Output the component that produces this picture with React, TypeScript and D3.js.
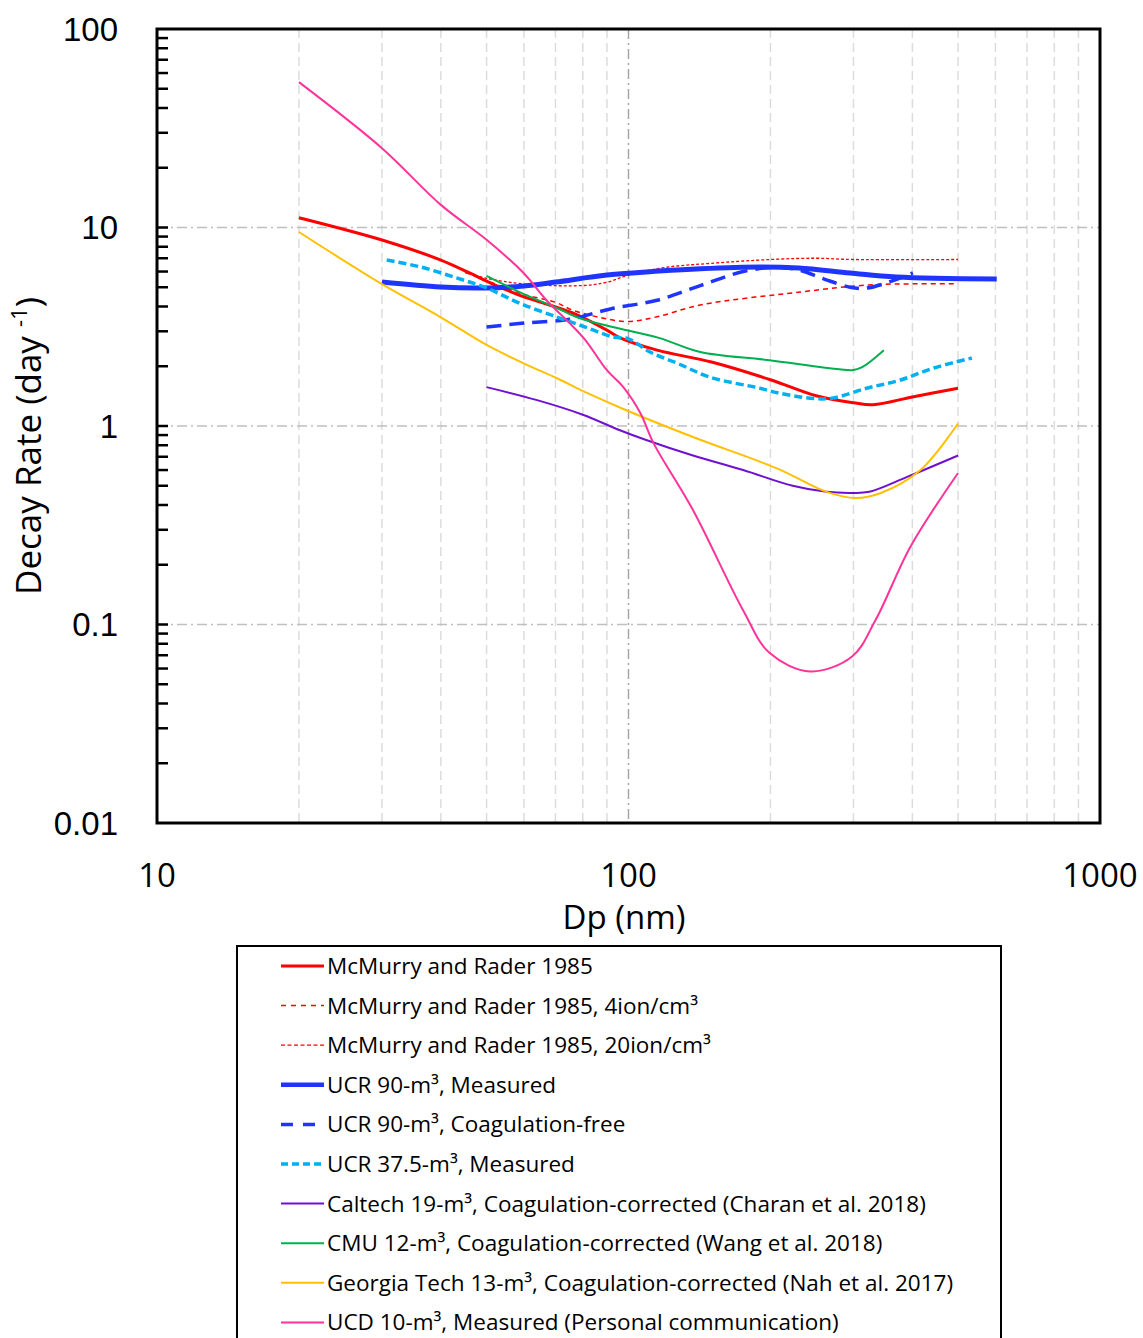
import React from "react";
import * as d3 from "d3";

// Particle wall-loss decay rates vs. particle diameter (log-log)
type Pt = [number, number];

const mcmurry: Pt[] = [
  [20, 11.2], [30, 8.65], [40, 6.85], [46, 5.9], [51, 5.25], [60, 4.47], [68, 4.07],
  [78, 3.62], [90, 3.04], [96, 2.78], [115, 2.41], [150, 2.1], [200, 1.71],
  [250, 1.42], [300, 1.31], [330, 1.28], [400, 1.4], [500, 1.55],
];
const mcmurry4ion: Pt[] = [
  [45, 5.95], [51, 5.3], [60, 4.6], [70, 4.2], [76, 3.84], [88, 3.5], [100, 3.36],
  [115, 3.55], [142, 4.07], [231, 4.73], [321, 5.13], [400, 5.2], [500, 5.2],
];
const mcmurry20ion: Pt[] = [
  [45, 5.95], [50, 5.55], [60, 5.2], [80, 5.1], [90, 5.3], [100, 5.76],
  [120, 6.3], [150, 6.6], [200, 6.9], [250, 7.0], [300, 6.9], [500, 6.9],
];
const ucr90Measured: Pt[] = [
  [30, 5.31], [40, 5.01], [50, 4.96], [60, 5.08], [70, 5.31], [90, 5.76], [116, 6.03],
  [142, 6.2], [190, 6.33], [230, 6.25], [295, 5.9], [370, 5.63], [604, 5.5],
];
const ucr90CoagFree: Pt[] = [
  [50, 3.15], [60, 3.3], [75, 3.45], [92, 3.9], [115, 4.3], [142, 5.1], [175, 6.0],
  [205, 6.3], [230, 6.1], [260, 5.5], [295, 5.0], [320, 4.95], [364, 5.4], [401, 5.9],
];
const ucr375Measured: Pt[] = [
  [30.7, 6.86], [36.2, 6.33], [43.2, 5.57], [50, 4.96], [58.7, 4.16], [70.5, 3.54],
  [81, 3.15], [92.6, 2.81], [100, 2.75], [111, 2.36], [127, 2.07], [149, 1.76],
  [190, 1.55], [207, 1.47], [243, 1.38], [270, 1.38], [320, 1.55], [376, 1.7],
  [444, 1.96], [535, 2.2],
];
const caltech19: Pt[] = [
  [50, 1.57], [64, 1.35], [80, 1.14], [95.6, 0.955], [109, 0.85], [137, 0.71],
  [175, 0.6], [223, 0.5], [263, 0.466], [298, 0.46], [324, 0.466], [390, 0.554], [500, 0.71],
];
const cmu12: Pt[] = [
  [50, 5.7], [58.7, 4.73], [70.5, 3.93], [78.6, 3.5], [92.6, 3.15], [116, 2.78],
  [142, 2.36], [197, 2.15], [280, 1.93], [298, 1.91], [313, 1.98], [348, 2.41],
];
const georgiaTech13: Pt[] = [
  [20, 9.49], [29.7, 5.26], [39.9, 3.54], [50, 2.56], [59.9, 2.07], [70.5, 1.74],
  [81, 1.48], [98.9, 1.2], [137, 0.88], [207, 0.61], [263, 0.466], [303, 0.434],
  [343, 0.46], [416, 0.6], [500, 1.03],
];
const ucd10: Pt[] = [
  [20, 54], [30, 25.1], [40, 13.0], [50, 8.67], [59.9, 5.9], [67, 4.3],
  [75, 3.3], [81, 2.71], [90, 1.91], [97.5, 1.57], [106, 1.16], [113, 0.82], [137, 0.377],
  [175, 0.118], [199, 0.072], [243, 0.058], [298, 0.069], [334, 0.105], [396, 0.246], [500, 0.58],
];

const xTicks = [10, 100, 1000];
const yTicks = [0.01, 0.1, 1, 10, 100];
const yTickLabels = ["0.01", "0.1", "1", "10", "100"];

interface Series {
  name: string;
  data: Pt[];
  color: string;
  width: number;
  dash?: string;
  legendDash?: string;
}

const series: Series[] = [
  { name: "McMurry and Rader 1985", data: mcmurry, color: "#ff0000", width: 3 },
  { name: "McMurry and Rader 1985, 4ion/cm³", data: mcmurry4ion, color: "#ff0000", width: 1.5, dash: "5,4", legendDash: "5,5" },
  { name: "McMurry and Rader 1985, 20ion/cm³", data: mcmurry20ion, color: "#ff0000", width: 1.3, dash: "3,2", legendDash: "4,2.5" },
  { name: "UCR 90-m³, Measured", data: ucr90Measured, color: "#1f35ff", width: 5 },
  { name: "UCR 90-m³, Coagulation-free", data: ucr90CoagFree, color: "#1f35ff", width: 3.5, dash: "15,8", legendDash: "12,10" },
  { name: "UCR 37.5-m³, Measured", data: ucr375Measured, color: "#00b0f0", width: 3.5, dash: "8,4", legendDash: "7,4" },
  { name: "Caltech 19-m³, Coagulation-corrected (Charan et al. 2018)", data: caltech19, color: "#7010d0", width: 2 },
  { name: "CMU 12-m³, Coagulation-corrected (Wang et al. 2018)", data: cmu12, color: "#00b050", width: 2 },
  { name: "Georgia Tech 13-m³, Coagulation-corrected (Nah et al. 2017)", data: georgiaTech13, color: "#ffc000", width: 2 },
  { name: "UCD 10-m³, Measured (Personal communication)", data: ucd10, color: "#ff3399", width: 2 },
];

const W = 1143;
const H = 1338;
const plot = { left: 157, right: 1100, top: 29, bottom: 823 };

export default function App() {
  const x = d3.scaleLog().domain([10, 1000]).range([plot.left, plot.right]);
  const y = d3.scaleLog().domain([0.01, 100]).range([plot.bottom, plot.top]);

  const line = d3
    .line<Pt>()
    .x((d) => x(d[0]))
    .y((d) => y(d[1]))
    .curve(d3.curveCatmullRom.alpha(0.5));

  // minor grid positions (2..9 in each decade)
  const xMinor: number[] = [];
  const yMinor: number[] = [];
  [10, 100].forEach((b) => {
    for (let k = 2; k <= 9; k++) xMinor.push(b * k);
  });
  [0.01, 0.1, 1, 10].forEach((b) => {
    for (let k = 2; k <= 9; k++) yMinor.push(b * k);
  });

  const legendTop = 966;
  const legendStep = 39.6;

  return (
    <svg
      width={W}
      height={H}
      style={{ position: "absolute", left: 0, top: 0, background: "#fff" }}
      fontFamily="'Open Sans', sans-serif"
    >
      <rect x={0} y={0} width={W} height={H} fill="#fff" />
      {/* vertical grid */}
      {xMinor.map((v) => (
        <line key={"xg" + v} x1={x(v)} x2={x(v)} y1={plot.top} y2={plot.bottom}
          stroke="#dcdcdc" strokeWidth={1.5} strokeDasharray="9,5" />
      ))}
      <line x1={x(100)} x2={x(100)} y1={plot.top} y2={plot.bottom}
        stroke="#a6a6a6" strokeWidth={1.5} strokeDasharray="10,4,2,4" />
      {/* horizontal grid */}
      {[0.1, 1, 10].map((v) => (
        <line key={"yg" + v} x1={plot.left} x2={plot.right} y1={y(v)} y2={y(v)}
          stroke="#bfbfbf" strokeWidth={1.5} strokeDasharray="10,4,2,4" />
      ))}
      {/* y minor ticks, inside */}
      {yMinor.map((v) => (
        <line key={"ym" + v} x1={plot.left} x2={plot.left + 11} y1={y(v)} y2={y(v)}
          stroke="#000" strokeWidth={2.5} />
      ))}
      {[0.1, 1, 10].map((v) => (
        <line key={"yM" + v} x1={plot.left} x2={plot.left + 11} y1={y(v)} y2={y(v)}
          stroke="#000" strokeWidth={2.5} />
      ))}

      {/* series */}
      {series.map((s) => (
        <path key={s.name} d={line(s.data) || ""} fill="none" stroke={s.color}
          strokeWidth={s.width} strokeDasharray={s.dash} strokeLinejoin="round" />
      ))}

      {/* frame */}
      <rect x={plot.left} y={plot.top} width={plot.right - plot.left} height={plot.bottom - plot.top}
        fill="none" stroke="#000" strokeWidth={3} />

      {/* tick labels */}
      {yTicks.map((v, i) => (
        <text key={"yl" + v} x={118} y={y(v)} dy="0.36em" textAnchor="end"
          fontFamily="'Liberation Sans', sans-serif" fontSize={33} fill="#000">
          {yTickLabels[i]}
        </text>
      ))}
      {xTicks.map((v) => (
        <text key={"xl" + v} x={x(v)} y={887} textAnchor="middle" fontSize={33} fill="#000">
          {String(v)}
        </text>
      ))}

      {/* axis titles */}
      <text x={624} y={929} textAnchor="middle" fontSize={33} fill="#000">Dp (nm)</text>
      <text transform="translate(41,446) rotate(-90)" textAnchor="middle" fontSize={35} fill="#000">
        Decay Rate (day <tspan fontSize={22} dy={-14}>-1</tspan><tspan dy={14}>)</tspan>
      </text>

      {/* legend */}
      <rect x={237} y={946} width={764} height={420} fill="#fff" stroke="#000" strokeWidth={2} />
      {series.map((s, i) => {
        const ly = legendTop + i * legendStep;
        return (
          <g key={"lg" + s.name}>
            <line x1={281} x2={324} y1={ly} y2={ly} stroke={s.color}
              strokeWidth={Math.min(s.width, 4.5)} strokeDasharray={s.legendDash ?? s.dash} />
            <text x={327} y={ly + 8} fontSize={22.5} fill="#000">{s.name}</text>
          </g>
        );
      })}
    </svg>
  );
}
